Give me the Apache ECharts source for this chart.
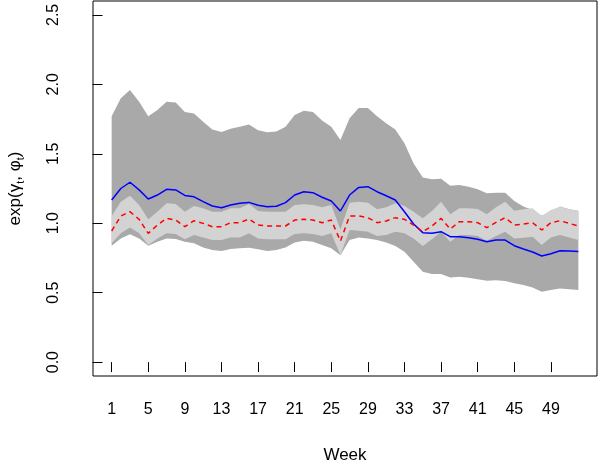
<!DOCTYPE html>
<html>
<head>
<meta charset="utf-8">
<script src="https://cdn.jsdelivr.net/npm/echarts@6/dist/echarts.min.js"></script>
<style>html,body{margin:0;padding:0;background:#fff}#c{width:600px;height:463px}</style>
</head>
<body>
<div id="c"></div>
<script>
var weeks = [1,2,3,4,5,6,7,8,9,10,11,12,13,14,15,16,17,18,19,20,21,22,23,24,25,26,27,28,29,30,31,32,33,34,35,36,37,38,39,40,41,42,43,44,45,46,47,48,49,50,51,52];
var xTicks = [1,5,9,13,17,21,25,29,33,37,41,45,49];
var yTicks = [0,0.5,1,1.5,2,2.5];

var outerUpper = [1.77,1.90,1.96,1.875,1.77,1.815,1.875,1.87,1.80,1.79,
  1.73,1.675,1.657,1.68,1.695,1.71,1.67,1.655,1.66,1.695,
  1.78,1.81,1.80,1.74,1.695,1.60,1.755,1.83,1.83,1.77,
  1.72,1.675,1.575,1.43,1.33,1.316,1.32,1.27,1.275,1.263,
  1.244,1.215,1.22,1.22,1.16,1.12,1.095,1.054,1.083,1.12,
  1.10,1.09];
var outerLower = [0.838,0.89,0.92,0.89,0.838,0.867,0.89,0.886,0.867,0.855,
  0.826,0.807,0.80,0.814,0.819,0.823,0.812,0.80,0.807,0.826,
  0.862,0.874,0.867,0.843,0.819,0.77,0.879,0.898,0.89,0.879,
  0.862,0.836,0.795,0.723,0.65,0.634,0.634,0.61,0.615,0.608,
  0.596,0.586,0.59,0.584,0.567,0.555,0.538,0.507,0.519,0.53,
  0.524,0.519];
var innerUpper = [1.052,1.155,1.198,1.131,1.028,1.083,1.143,1.138,1.083,1.124,
  1.107,1.083,1.083,1.107,1.107,1.138,1.088,1.083,1.083,1.083,
  1.131,1.136,1.131,1.115,1.131,0.955,1.148,1.155,1.148,1.10,
  1.115,1.143,1.124,1.083,1.035,1.088,1.155,1.064,1.107,1.107,
  1.102,1.064,1.115,1.155,1.09,1.10,1.107,1.052,1.095,1.119,
  1.10,1.088];
var innerLower = [0.855,0.927,0.97,0.927,0.843,0.89,0.927,0.922,0.884,0.915,
  0.898,0.879,0.879,0.898,0.898,0.927,0.89,0.884,0.884,0.884,
  0.922,0.927,0.922,0.908,0.927,0.771,0.951,0.946,0.939,0.908,
  0.915,0.939,0.927,0.89,0.836,0.884,0.939,0.867,0.915,0.915,
  0.908,0.874,0.908,0.939,0.89,0.896,0.903,0.843,0.898,0.915,
  0.898,0.879];
var blueLine = [1.167,1.25,1.295,1.24,1.174,1.203,1.244,1.24,1.20,1.19,
  1.155,1.124,1.112,1.131,1.143,1.15,1.129,1.119,1.122,1.148,
  1.203,1.227,1.22,1.187,1.16,1.088,1.203,1.258,1.263,1.227,
  1.198,1.167,1.083,0.994,0.932,0.927,0.939,0.903,0.903,0.896,
  0.884,0.867,0.879,0.879,0.838,0.814,0.793,0.764,0.78,0.802,
  0.80,0.797];
var redLine = [0.944,1.052,1.083,1.028,0.927,0.987,1.035,1.023,0.975,1.018,
  0.999,0.975,0.975,1.004,1.004,1.03,0.987,0.98,0.98,0.98,
  1.023,1.028,1.023,1.004,1.023,0.872,1.052,1.052,1.04,1.004,
  1.016,1.04,1.028,0.987,0.939,0.98,1.035,0.958,1.011,1.011,
  1.004,0.968,1.006,1.04,0.987,0.994,1.004,0.951,1.004,1.018,
  0.999,0.98];

function pairs(arr){ return weeks.map(function(w,i){ return [w, arr[i]]; }); }

var FONT = 'Liberation Sans';
var chart = echarts.init(document.getElementById('c'), null, {renderer:'canvas'});

function bandSeries(name, up, lo, color){
  return {
    name:name, type:'custom', silent:true, animation:false,
    data:[[weeks[0], lo[0]]],
    renderItem:function(params, api){
      var pts = [];
      for (var i = 0; i < weeks.length; i++) pts.push(api.coord([weeks[i], up[i]]));
      for (var j = weeks.length - 1; j >= 0; j--) pts.push(api.coord([weeks[j], lo[j]]));
      return {type:'polygon', shape:{points:pts}, style:{fill:color, stroke:null}};
    }
  };
}

chart.setOption({
  animation:false,
  backgroundColor:'#fff',
  grid:{left:93, right:3, top:1, bottom:87, show:true, borderColor:'#000', borderWidth:1,
    backgroundColor:'transparent', containLabel:false, outerBoundsMode:'none'},
  xAxis:{
    type:'value', min:-1.04, max:54.04, offset:1,
    name:'Week', nameLocation:'middle', nameGap:70,
    nameTextStyle:{fontFamily:FONT, fontSize:17, color:'#000'},
    axisLine:{show:false},
    splitLine:{show:false},
    axisTick:{show:true, customValues:xTicks, length:10, lineStyle:{color:'#000', width:1}},
    axisLabel:{customValues:xTicks, fontFamily:FONT, fontSize:16, color:'#000', margin:25}
  },
  yAxis:{
    type:'value', min:-0.1, max:2.6,
    name:'{a|exp(γ}{s|t}{a|, φ}{s|t}{a|)}', nameLocation:'middle', nameGap:67, nameRotate:90,
    nameTextStyle:{fontFamily:FONT, color:'#000',
      rich:{a:{fontFamily:FONT, fontSize:17, color:'#000', lineHeight:22, verticalAlign:'middle'},
            s:{fontFamily:FONT, fontSize:11, color:'#000', lineHeight:22, verticalAlign:'bottom'}}},
    axisLine:{show:false},
    splitLine:{show:false},
    axisTick:{show:true, customValues:yTicks, length:10, lineStyle:{color:'#000', width:1}},
    axisLabel:{customValues:yTicks, rotate:90, fontFamily:FONT, fontSize:16, color:'#000', margin:31,
      formatter:function(v){ return Number(v).toFixed(1); }}
  },
  series:[
    bandSeries('outerBand', outerUpper, outerLower, '#a9a9a9'),
    bandSeries('innerBand', innerUpper, innerLower, '#d3d3d3'),
    {name:'blue', type:'line', data:pairs(blueLine), showSymbol:false, symbol:'none',
      lineStyle:{color:'#0000ff', width:1.5}, animation:false},
    {name:'red', type:'line', data:pairs(redLine), showSymbol:false, symbol:'none',
      lineStyle:{color:'#ff0000', width:1.5, type:[5,4]}, animation:false}
  ]
});
</script>
</body>
</html>
